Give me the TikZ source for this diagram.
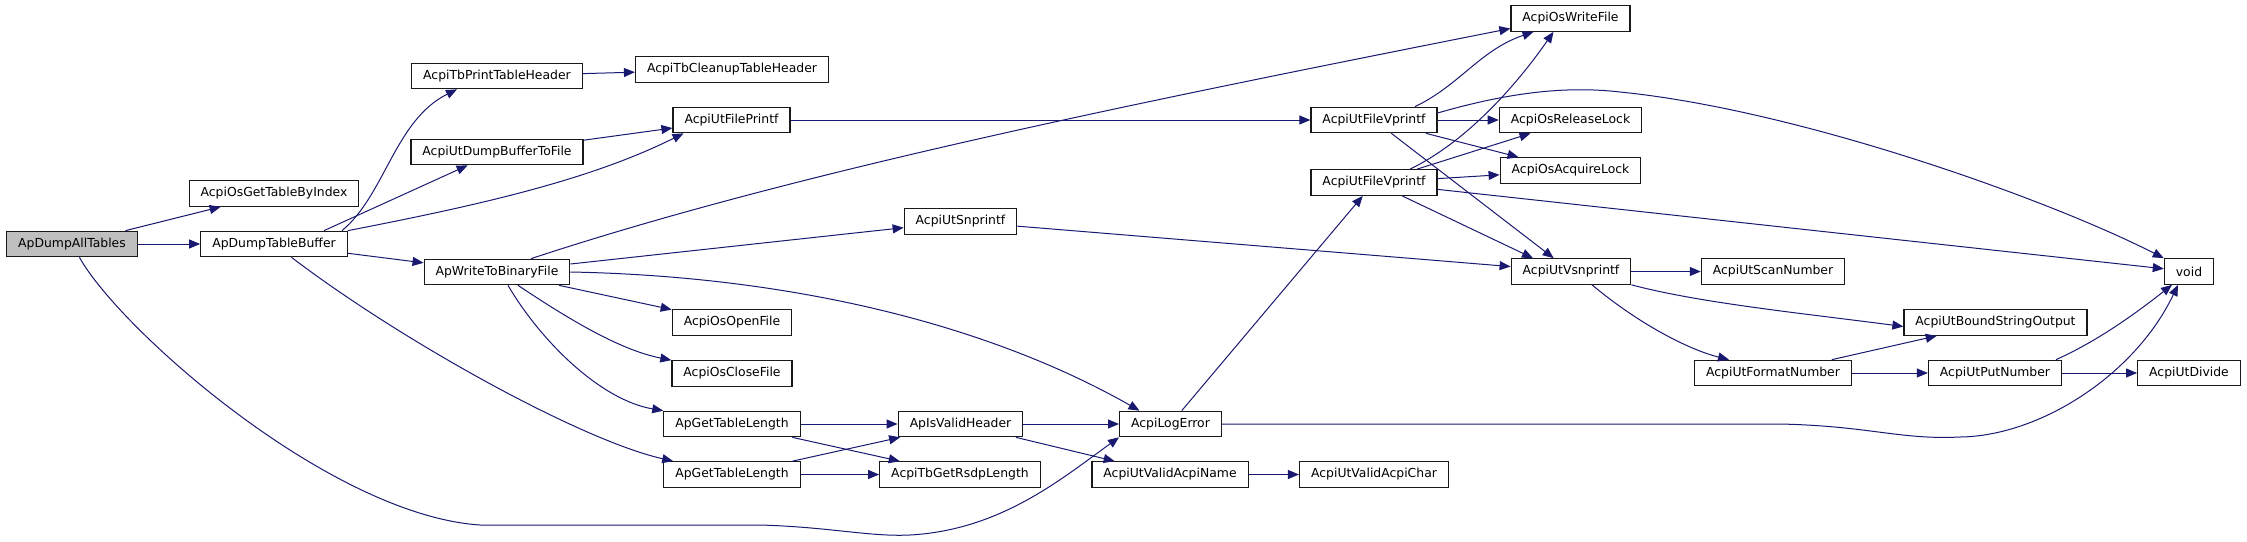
\documentclass[tikz,border=0pt]{standalone}
\usepackage{fontspec}
\setmainfont{DejaVu Sans}
\usepackage{tikz}
\usetikzlibrary{arrows.meta}
\definecolor{navy}{HTML}{191970}
\definecolor{grigio}{HTML}{BFBFBF}

\begin{document}
\begin{tikzpicture}[x=1pt, y=-1pt,
  fn/.style={draw=black!90, line width=1.2pt, fill=white, minimum height=25.5pt,
    inner xsep=11.5pt, inner ysep=0pt, font=\fontsize{12.4}{14}\selectfont},
  call/.style={navy, line width=1pt, -{Triangle[length=11pt,width=9pt]}}]
  \useasboundingbox (0,0) rectangle (2247,541);
  % Caller
  \node[fn, fill=grigio] (dumpall) at (72,244) {ApDumpAllTables};
  % First level
  \node[fn] (getidx) at (274,193.5) {AcpiOsGetTableByIndex};
  \node[fn] (dumpbuf) at (274,244) {ApDumpTableBuffer};
  % Second level
  \node[fn] (prthdr) at (497,76) {AcpiTbPrintTableHeader};
  \node[fn] (dumpfile) at (497,152) {AcpiUtDumpBufferToFile};
  \node[fn] (writebin) at (497,272) {ApWriteToBinaryFile};
  % Third level
  \node[fn] (cleanhdr) at (732,69.5) {AcpiTbCleanupTableHeader};
  \node[fn] (fprintf) at (731.5,120) {AcpiUtFilePrintf};
  \node[fn] (openf) at (732,322.5) {AcpiOsOpenFile};
  \node[fn] (closef) at (732,373.5) {AcpiOsCloseFile};
  \node[fn] (tlenA) at (732,424) {ApGetTableLength};
  \node[fn] (tlenB) at (732,474.5) {ApGetTableLength};
  % Fourth level
  \node[fn] (snprintf) at (960.5,221.5) {AcpiUtSnprintf};
  \node[fn] (validhdr) at (960.5,424) {ApIsValidHeader};
  \node[fn] (rsdplen) at (960,474.5) {AcpiTbGetRsdpLength};
  \node[fn] (logerr) at (1170.5,424) {AcpiLogError};
  \node[fn] (vname) at (1170,474.5) {AcpiUtValidAcpiName};
  \node[fn] (vchar) at (1374,474.5) {AcpiUtValidAcpiChar};
  \node[fn] (vprA) at (1374,120) {AcpiUtFileVprintf};
  \node[fn] (vprB) at (1374,182.5) {AcpiUtFileVprintf};
  % Right part
  \node[fn] (writef) at (1570.5,18.5) {AcpiOsWriteFile};
  \node[fn] (rellock) at (1570.5,120) {AcpiOsReleaseLock};
  \node[fn] (acqlock) at (1570.5,170.5) {AcpiOsAcquireLock};
  \node[fn] (vsnprintf) at (1571,271.5) {AcpiUtVsnprintf};
  \node[fn] (scannum) at (1773,271.5) {AcpiUtScanNumber};
  \node[fn] (voidn) at (2189,271.5) {void};
  \node[fn] (boundout) at (1995.5,322.5) {AcpiUtBoundStringOutput};
  \node[fn] (fmtnum) at (1773,373) {AcpiUtFormatNumber};
  \node[fn] (putnum) at (1995,373) {AcpiUtPutNumber};
  \node[fn] (divide) at (2189,373) {AcpiUtDivide};
  % Calls of ApDumpAllTables
  \draw[call] (dumpall) -- (getidx);
  \draw[call] (dumpall) -- (dumpbuf);
  \draw[call] (dumpall) .. controls (120,330) and (330,515) .. (480,525) -- (760,525)
    .. controls (830,527) and (870,537) .. (910,535)
    .. controls (1000,530) and (1060,480) .. (logerr.south west);
  % Calls of ApDumpTableBuffer
  \draw[call] ([xshift=68pt]dumpbuf.north) .. controls (385,195) and (395,120) .. ([xshift=-40pt]prthdr.south);
  \draw[call] ([xshift=50pt]dumpbuf.north) -- (dumpfile);
  \draw[call] (dumpbuf.north east) .. controls (480,205) and (590,180) .. ([xshift=-48pt]fprintf.south);
  \draw[call] (dumpbuf) -- (writebin);
  \draw[call] (dumpbuf) .. controls (400,340) and (580,440) .. (tlenB);
  \draw[call] (prthdr) -- (cleanhdr);
  \draw[call] (dumpfile) -- (fprintf);
  \draw[call] (fprintf) -- (vprA);
  % Calls of ApWriteToBinaryFile
  \draw[call] ([xshift=34pt]writebin.north) .. controls (800,170) and (1150,100) .. ([yshift=-10pt]writef.west);
  \draw[call] (writebin) -- (snprintf);
  \draw[call] (writebin.east) .. controls (780,276) and (980,320) .. ([xshift=-31pt]logerr.north);
  \draw[call] (writebin) -- (openf);
  \draw[call] ([xshift=21pt]writebin.south) .. controls (570,320) and (620,350) .. (closef.north west);
  \draw[call] ([xshift=11pt]writebin.south) .. controls (540,340) and (600,400) .. (tlenA.north west);
  % Calls of AcpiUtFileVprintf
  \draw[call] ([xshift=41pt]vprA.north) .. controls (1460,85) and (1480,50) .. ([xshift=-37pt]writef.south);
  \draw[call] (vprA) -- (rellock);
  \draw[call] (vprA) -- (acqlock);
  \draw[call] (vprA) -- (vsnprintf);
  \draw[call] ([yshift=7pt]vprA.east) .. controls (1500,95) and (1560,85) .. (1620,92)
    .. controls (1800,110) and (2050,200) .. (voidn.north west);
  \draw[call] ([xshift=36pt]vprB.north) .. controls (1470,140) and (1520,80) .. ([xshift=-17pt]writef.south);
  \draw[call] ([xshift=43pt]vprB.north) -- ([xshift=-40pt]rellock.south);
  \draw[call] (vprB) -- (acqlock);
  \draw[call] (vprB) -- ([xshift=-38pt]vsnprintf.north);
  \draw[call] (vprB) -- (voidn);
  % Calls of AcpiUtVsnprintf
  \draw[call] (snprintf) -- (vsnprintf);
  \draw[call] (vsnprintf) -- (scannum);
  \draw[call] (vsnprintf.south east) .. controls (1700,303) and (1800,313) .. ([yshift=-4pt]boundout.west);
  \draw[call] ([xshift=21pt]vsnprintf.south) .. controls (1640,325) and (1690,350) .. ([xshift=-44pt]fmtnum.north);
  \draw[call] (fmtnum) -- (boundout);
  \draw[call] (fmtnum) -- (putnum);
  \draw[call] ([xshift=61pt]putnum.north) .. controls (2100,340) and (2140,310) .. ([xshift=-17pt]voidn.south);
  \draw[call] (putnum) -- (divide);
  % Calls of AcpiLogError
  \draw[call] (logerr) -- (vprB);
  \draw[call] (logerr.east) -- (1780,424) .. controls (1870,426) and (1900,440) .. (1960,437)
    .. controls (2040,436) and (2135,375) .. ([xshift=-11pt]voidn.south);
  % Table length and header checks
  \draw[call] (tlenA) -- (validhdr);
  \draw[call] (tlenA) -- (rsdplen);
  \draw[call] (tlenB) -- (validhdr);
  \draw[call] (tlenB) -- (rsdplen);
  \draw[call] (validhdr) -- (logerr);
  \draw[call] (validhdr) -- (vname);
  \draw[call] (vname) -- (vchar);
\end{tikzpicture}
\end{document}
